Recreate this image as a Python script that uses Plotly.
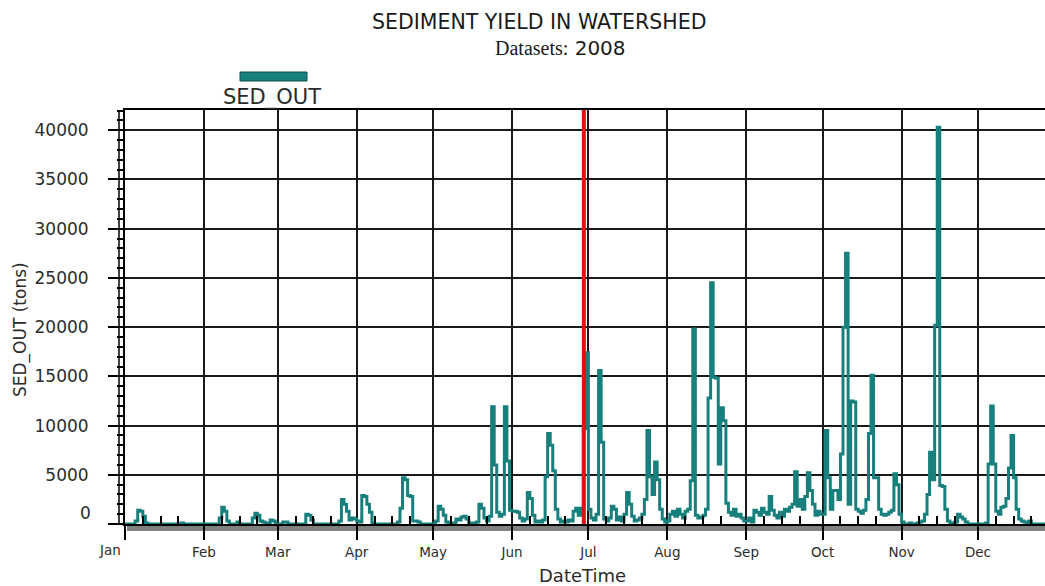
import pandas as pd
import plotly.graph_objects as go

# Daily sediment yield (tons), 2008, one list per month
jan = [0, 0, 0, 0, 300, 1400, 1300, 800, 100, 0, 0, 0, 0, 0, 0, 0, 0, 0, 0, 0,
       0, 0, 100, 0, 0, 0, 0, 0, 0, 0, 0]
feb = [0, 0, 0, 0, 0, 0, 600, 1700, 1300, 300, 0, 0, 0, 200, 0, 0, 0, 0, 0, 600,
       1100, 900, 300, 200, 100, 0, 400, 300, 0]
mar = [0, 0, 200, 200, 0, 0, 0, 0, 0, 0, 0, 1000, 900, 400, 0, 0, 0, 0, 0, 0,
       0, 0, 0, 0, 300, 2500, 2000, 1300, 400, 600, 500]
apr = [300, 200, 2900, 2800, 2000, 1200, 100, 0, 0, 0, 0, 0, 0, 0, 0, 0, 200, 1600, 4700, 4500,
       2900, 2800, 300, 300, 200, 0, 0, 0, 0, 0]
may = [0, 300, 1800, 1500, 900, 200, 0, 0, 100, 500, 400, 700, 800, 500, 100, 0, 100, 200, 2000, 1600,
       600, 300, 800, 11900, 6000, 1200, 800, 1000, 11900, 6400, 1400]
jun = [1300, 1300, 1200, 600, 300, 500, 3200, 2600, 900, 200, 300, 200, 400, 4800, 9200, 8000, 5400, 1500, 500, 200,
       300, 200, 400, 300, 1300, 1600, 900, 1600, 9700, 17400]
jul = [1500, 600, 400, 1000, 15600, 8300, 500, 300, 600, 1800, 1500, 400, 700, 300, 1000, 3200, 2000, 800, 300, 400,
       600, 1000, 2500, 9500, 4800, 3000, 6300, 4500, 1500, 500, 200]
aug = [300, 1000, 1300, 800, 1500, 1000, 600, 1300, 1500, 4400, 19800, 900, 600, 700, 900, 1500, 12800, 24500, 14900, 14800,
       6100, 11800, 10500, 2100, 1200, 900, 1500, 800, 1000, 600, 300]
sep = [300, 600, 200, 1400, 1200, 900, 1600, 1200, 1000, 2800, 1400, 900, 600, 1200, 800, 1500, 1300, 1700, 2000, 5300,
       1800, 2500, 1500, 2800, 5200, 3400, 2000, 900, 1300, 1000]
oct_ = [1000, 9500, 4700, 1500, 3400, 3400, 2500, 7100, 20000, 27500, 2000, 12500, 12400, 1500, 1300, 1100, 1400, 2500, 9200, 15100,
        4700, 4700, 1500, 1000, 900, 1000, 1200, 1400, 5100, 4000, 1000]
nov = [200, 0, 0, 100, 0, 0, 100, 200, 300, 1000, 3000, 7300, 4500, 20200, 40300, 3900, 3800, 1500, 300, 100,
       0, 200, 1000, 700, 500, 200, 0, 0, 0, 0]
dec = [0, 0, 0, 100, 6100, 12000, 6100, 1300, 1000, 1700, 1800, 2600, 5700, 9000, 4700, 1500, 500, 300, 200, 100,
       300, 0, 0, 0, 0, 0, 0, 0, 0, 0, 0]

sed_out = jan + feb + mar + apr + may + jun + jul + aug + sep + oct_ + nov + dec
dates = pd.date_range("2008-01-01", periods=len(sed_out), freq="D")

month_labels = ["", "Feb", "Mar", "Apr", "May", "Jun", "Jul", "Aug", "Sep", "Oct", "Nov", "Dec"]
month_ticks = pd.date_range("2008-01-01", periods=12, freq="MS")
week_ticks = [pd.Timestamp(2008, m, d) for m in range(1, 13) for d in (8, 15, 22)]
y_ticks = [0, 5000, 10000, 15000, 20000, 25000, 30000, 35000, 40000]
y_labels = [""] + [str(v) for v in y_ticks[1:]]
marker_date = "2008-06-29 05:00"

TEAL = "#177f7c"
W, H = 1045, 586
L, R, T, B = 125, 0, 110, 62
PW, PH = W - L - R, H - T - B


def px(x):
    return (x - L) / PW


def py(y):
    return (H - B - y) / PH


fig = go.Figure()
fig.add_trace(go.Scatter(
    x=dates, y=sed_out, mode="lines", name="SED_OUT",
    line=dict(color=TEAL, width=3, shape="hv"), showlegend=False,
))

axis_font = dict(family="DejaVu Sans", color="#2b2b2b")

fig.update_layout(
    width=W, height=H,
    margin=dict(l=L, r=R, t=T, b=B, pad=0),
    paper_bgcolor="white", plot_bgcolor="white",
    showlegend=False,
    xaxis=dict(
        range=["2008-01-01", "2008-12-27 08:00"],
        tickmode="array", tickvals=month_ticks, ticktext=month_labels,
        ticks="outside", ticklen=14, tickwidth=1.5, tickcolor="black",
        tickfont=dict(size=13.5, **axis_font), ticklabelstandoff=1,
        showgrid=True, gridcolor="#1a1a1a", gridwidth=1.5,
        showline=True, linecolor="black", linewidth=2, mirror=True,
        zeroline=False,
        minor=dict(tickmode="array", tickvals=week_ticks, ticks="inside",
                   ticklen=8, tickwidth=1.5, tickcolor="black", showgrid=False),
    ),
    yaxis=dict(
        range=[0, 42060],
        tickmode="array", tickvals=y_ticks, ticktext=y_labels,
        ticks="outside", ticklen=15, tickwidth=1.5, tickcolor="black",
        tickfont=dict(size=17, **axis_font), ticklabelstandoff=16,
        showgrid=True, gridcolor="#1a1a1a", gridwidth=1.5,
        showline=True, linecolor="black", linewidth=2,
        zeroline=False,
        minor=dict(dtick=1000, ticks="outside", ticklen=6, tickwidth=1.5,
                   tickcolor="black", showgrid=False),
    ),
)

shapes = [
    # grey strip under the time axis
    dict(type="rect", xref="paper", yref="paper", x0=px(127), x1=1.0,
         y0=py(531), y1=py(525), fillcolor="#808080", line=dict(width=0), layer="below"),
    # second rail of the value axis
    dict(type="line", xref="paper", yref="paper", x0=px(119), x1=px(119),
         y0=0, y1=1, line=dict(color="black", width=1.5)),
    # current-date marker
    dict(type="line", xref="x", yref="paper", x0=marker_date, x1=marker_date,
         y0=0, y1=1, line=dict(color="#e01010", width=4), layer="above"),
    # legend swatch
    dict(type="rect", xref="paper", yref="paper", x0=px(240), x1=px(307),
         y0=py(81), y1=py(72), fillcolor=TEAL, line=dict(color="#0c4d4b", width=1)),
]
fig.update_layout(shapes=shapes)

annotations = [
    dict(text="SEDIMENT YIELD IN WATERSHED", x=px(539), y=py(22),
         font=dict(family="DejaVu Sans", size=20.5, color="#1a1a1a")),
    dict(text="<span style='font-family:Liberation Serif'>Datasets:</span> 2008",
         x=px(560), y=py(48), font=dict(family="DejaVu Sans", size=20, color="#1a1a1a")),
    dict(text="SED_OUT", x=px(272), y=py(97),
         font=dict(family="DejaVu Sans", size=21, color="#2b2b2b")),
    dict(text="DateTime", x=px(582), y=py(575),
         font=dict(family="DejaVu Sans", size=18, color="#2b2b2b")),
    dict(text="SED_OUT (tons)", x=px(20), y=py(330), textangle=-90,
         font=dict(family="DejaVu Sans", size=17, color="#2b2b2b")),
    dict(text="0", x=px(93), y=py(513), xanchor="right",
         font=dict(family="DejaVu Sans", size=17, color="#2b2b2b")),
    dict(text="Jan", x=px(110), y=py(550),
         font=dict(family="DejaVu Sans", size=13.5, color="#2b2b2b")),
]
for a in annotations:
    a.setdefault("xanchor", "center")
    a.update(xref="paper", yref="paper", yanchor="middle", showarrow=False)
fig.update_layout(annotations=annotations)

fig.write_html("out.html")
